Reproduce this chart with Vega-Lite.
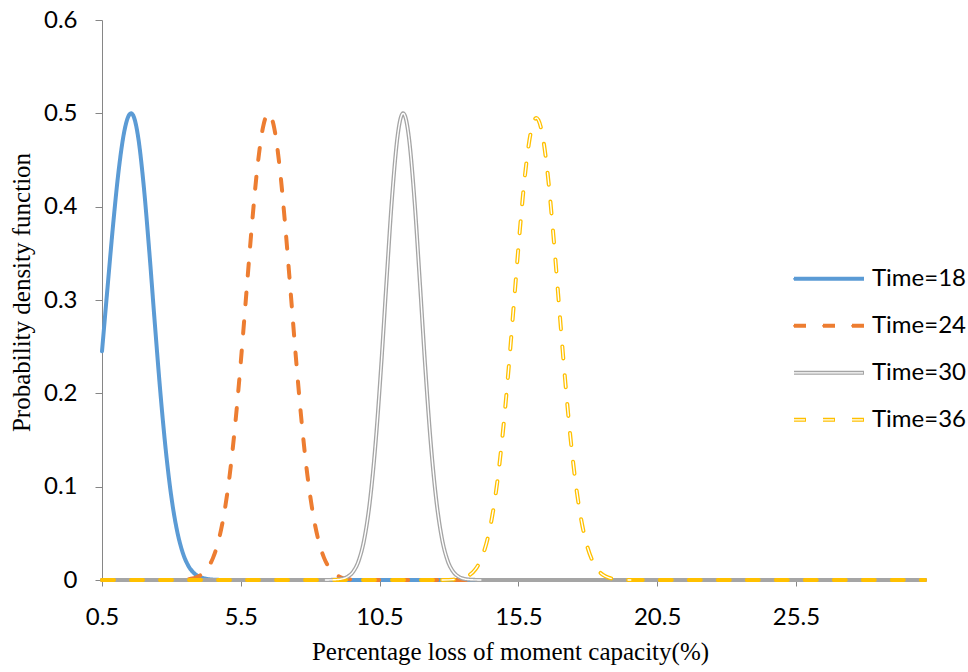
{
  "$schema": "https://vega.github.io/schema/vega-lite/v6.json",
  "width": 823,
  "height": 560,
  "autosize": {"type": "none"},
  "padding": {"left": 102, "top": 20, "right": 43, "bottom": 92},
  "background": "white",
  "config": {"view": {"stroke": null}},
  "datasets": {
    "pdf": [
      {"t": "Time=18", "seg": "c", "x": 0.5, "y": 0.245},
      {"t": "Time=18", "seg": "c", "x": 0.7, "y": 0.3136},
      {"t": "Time=18", "seg": "c", "x": 0.9, "y": 0.3806},
      {"t": "Time=18", "seg": "c", "x": 1.1, "y": 0.4387},
      {"t": "Time=18", "seg": "c", "x": 1.3, "y": 0.4802},
      {"t": "Time=18", "seg": "c", "x": 1.45, "y": 0.4968},
      {"t": "Time=18", "seg": "c", "x": 1.55, "y": 0.5},
      {"t": "Time=18", "seg": "c", "x": 1.65, "y": 0.4959},
      {"t": "Time=18", "seg": "c", "x": 1.8, "y": 0.475},
      {"t": "Time=18", "seg": "c", "x": 2.0, "y": 0.4233},
      {"t": "Time=18", "seg": "c", "x": 2.2, "y": 0.3534},
      {"t": "Time=18", "seg": "c", "x": 2.4, "y": 0.2761},
      {"t": "Time=18", "seg": "c", "x": 2.6, "y": 0.202},
      {"t": "Time=18", "seg": "c", "x": 2.8, "y": 0.1385},
      {"t": "Time=18", "seg": "c", "x": 3.0, "y": 0.0888},
      {"t": "Time=18", "seg": "c", "x": 3.2, "y": 0.0534},
      {"t": "Time=18", "seg": "c", "x": 3.4, "y": 0.03},
      {"t": "Time=18", "seg": "c", "x": 3.6, "y": 0.0158},
      {"t": "Time=18", "seg": "c", "x": 3.8, "y": 0.0078},
      {"t": "Time=18", "seg": "c", "x": 4.0, "y": 0.0036},
      {"t": "Time=18", "seg": "c", "x": 4.2, "y": 0.0016},
      {"t": "Time=18", "seg": "c", "x": 4.5, "y": 0.0004},
      {"t": "Time=18", "seg": "c", "x": 5.0, "y": 0},
      {"t": "Time=18", "seg": "c", "x": 30.15, "y": 0},

      {"t": "Time=24", "seg": "c", "x": 0.5, "y": 0},
      {"t": "Time=24", "seg": "c", "x": 3.1, "y": 0},
      {"t": "Time=24", "seg": "c", "x": 3.5, "y": 0.0005},
      {"t": "Time=24", "seg": "c", "x": 3.7, "y": 0.0013},
      {"t": "Time=24", "seg": "c", "x": 3.9, "y": 0.0029},
      {"t": "Time=24", "seg": "c", "x": 4.1, "y": 0.0062},
      {"t": "Time=24", "seg": "c", "x": 4.3, "y": 0.0125},
      {"t": "Time=24", "seg": "c", "x": 4.5, "y": 0.0237},
      {"t": "Time=24", "seg": "c", "x": 4.7, "y": 0.0423},
      {"t": "Time=24", "seg": "c", "x": 4.9, "y": 0.0711},
      {"t": "Time=24", "seg": "c", "x": 5.1, "y": 0.1123},
      {"t": "Time=24", "seg": "c", "x": 5.3, "y": 0.1669},
      {"t": "Time=24", "seg": "c", "x": 5.5, "y": 0.2334},
      {"t": "Time=24", "seg": "c", "x": 5.7, "y": 0.307},
      {"t": "Time=24", "seg": "c", "x": 5.9, "y": 0.38},
      {"t": "Time=24", "seg": "c", "x": 6.1, "y": 0.4426},
      {"t": "Time=24", "seg": "c", "x": 6.3, "y": 0.485},
      {"t": "Time=24", "seg": "c", "x": 6.5, "y": 0.5},
      {"t": "Time=24", "seg": "c", "x": 6.7, "y": 0.485},
      {"t": "Time=24", "seg": "c", "x": 6.9, "y": 0.4426},
      {"t": "Time=24", "seg": "c", "x": 7.1, "y": 0.38},
      {"t": "Time=24", "seg": "c", "x": 7.3, "y": 0.307},
      {"t": "Time=24", "seg": "c", "x": 7.5, "y": 0.2334},
      {"t": "Time=24", "seg": "c", "x": 7.7, "y": 0.1669},
      {"t": "Time=24", "seg": "c", "x": 7.9, "y": 0.1123},
      {"t": "Time=24", "seg": "c", "x": 8.1, "y": 0.0711},
      {"t": "Time=24", "seg": "c", "x": 8.3, "y": 0.0423},
      {"t": "Time=24", "seg": "c", "x": 8.5, "y": 0.0237},
      {"t": "Time=24", "seg": "c", "x": 8.7, "y": 0.0125},
      {"t": "Time=24", "seg": "c", "x": 8.9, "y": 0.0062},
      {"t": "Time=24", "seg": "c", "x": 9.1, "y": 0.0029},
      {"t": "Time=24", "seg": "c", "x": 9.3, "y": 0.0013},
      {"t": "Time=24", "seg": "c", "x": 9.5, "y": 0.0005},
      {"t": "Time=24", "seg": "c", "x": 9.9, "y": 0},
      {"t": "Time=24", "seg": "c", "x": 30.15, "y": 0},

      {"t": "Time=30", "seg": "a", "x": 0.5, "y": 0},
      {"t": "Time=30", "seg": "a", "x": 8.55, "y": 0},
      {"t": "Time=30", "seg": "c", "x": 8.55, "y": 0},
      {"t": "Time=30", "seg": "c", "x": 8.95, "y": 0.0004},
      {"t": "Time=30", "seg": "c", "x": 9.15, "y": 0.0012},
      {"t": "Time=30", "seg": "c", "x": 9.35, "y": 0.0035},
      {"t": "Time=30", "seg": "c", "x": 9.55, "y": 0.009},
      {"t": "Time=30", "seg": "c", "x": 9.75, "y": 0.0209},
      {"t": "Time=30", "seg": "c", "x": 9.95, "y": 0.044},
      {"t": "Time=30", "seg": "c", "x": 10.15, "y": 0.0839},
      {"t": "Time=30", "seg": "c", "x": 10.35, "y": 0.1447},
      {"t": "Time=30", "seg": "c", "x": 10.55, "y": 0.2261},
      {"t": "Time=30", "seg": "c", "x": 10.75, "y": 0.32},
      {"t": "Time=30", "seg": "c", "x": 10.95, "y": 0.41},
      {"t": "Time=30", "seg": "c", "x": 11.15, "y": 0.4758},
      {"t": "Time=30", "seg": "c", "x": 11.25, "y": 0.4938},
      {"t": "Time=30", "seg": "c", "x": 11.35, "y": 0.5},
      {"t": "Time=30", "seg": "c", "x": 11.45, "y": 0.4938},
      {"t": "Time=30", "seg": "c", "x": 11.55, "y": 0.4758},
      {"t": "Time=30", "seg": "c", "x": 11.75, "y": 0.41},
      {"t": "Time=30", "seg": "c", "x": 11.95, "y": 0.32},
      {"t": "Time=30", "seg": "c", "x": 12.15, "y": 0.2261},
      {"t": "Time=30", "seg": "c", "x": 12.35, "y": 0.1447},
      {"t": "Time=30", "seg": "c", "x": 12.55, "y": 0.0839},
      {"t": "Time=30", "seg": "c", "x": 12.75, "y": 0.044},
      {"t": "Time=30", "seg": "c", "x": 12.95, "y": 0.0209},
      {"t": "Time=30", "seg": "c", "x": 13.15, "y": 0.009},
      {"t": "Time=30", "seg": "c", "x": 13.35, "y": 0.0035},
      {"t": "Time=30", "seg": "c", "x": 13.55, "y": 0.0012},
      {"t": "Time=30", "seg": "c", "x": 13.75, "y": 0.0004},
      {"t": "Time=30", "seg": "c", "x": 14.15, "y": 0},
      {"t": "Time=30", "seg": "b", "x": 14.15, "y": 0},
      {"t": "Time=30", "seg": "b", "x": 30.15, "y": 0},

      {"t": "Time=36", "seg": "a", "x": 0.5, "y": 0},
      {"t": "Time=36", "seg": "a", "x": 12.75, "y": 0},
      {"t": "Time=36", "seg": "c", "x": 12.75, "y": 0},
      {"t": "Time=36", "seg": "c", "x": 13.15, "y": 0.0004},
      {"t": "Time=36", "seg": "c", "x": 13.35, "y": 0.0011},
      {"t": "Time=36", "seg": "c", "x": 13.55, "y": 0.0025},
      {"t": "Time=36", "seg": "c", "x": 13.75, "y": 0.0055},
      {"t": "Time=36", "seg": "c", "x": 13.95, "y": 0.0113},
      {"t": "Time=36", "seg": "c", "x": 14.15, "y": 0.0218},
      {"t": "Time=36", "seg": "c", "x": 14.35, "y": 0.0394},
      {"t": "Time=36", "seg": "c", "x": 14.55, "y": 0.067},
      {"t": "Time=36", "seg": "c", "x": 14.75, "y": 0.1071},
      {"t": "Time=36", "seg": "c", "x": 14.95, "y": 0.1607},
      {"t": "Time=36", "seg": "c", "x": 15.15, "y": 0.2266},
      {"t": "Time=36", "seg": "c", "x": 15.35, "y": 0.3002},
      {"t": "Time=36", "seg": "c", "x": 15.55, "y": 0.3736},
      {"t": "Time=36", "seg": "c", "x": 15.75, "y": 0.4368},
      {"t": "Time=36", "seg": "c", "x": 15.95, "y": 0.4798},
      {"t": "Time=36", "seg": "c", "x": 16.15, "y": 0.495},
      {"t": "Time=36", "seg": "c", "x": 16.35, "y": 0.4798},
      {"t": "Time=36", "seg": "c", "x": 16.55, "y": 0.4368},
      {"t": "Time=36", "seg": "c", "x": 16.75, "y": 0.3736},
      {"t": "Time=36", "seg": "c", "x": 16.95, "y": 0.3002},
      {"t": "Time=36", "seg": "c", "x": 17.15, "y": 0.2266},
      {"t": "Time=36", "seg": "c", "x": 17.35, "y": 0.1607},
      {"t": "Time=36", "seg": "c", "x": 17.55, "y": 0.1071},
      {"t": "Time=36", "seg": "c", "x": 17.75, "y": 0.067},
      {"t": "Time=36", "seg": "c", "x": 17.95, "y": 0.0394},
      {"t": "Time=36", "seg": "c", "x": 18.15, "y": 0.0218},
      {"t": "Time=36", "seg": "c", "x": 18.35, "y": 0.0113},
      {"t": "Time=36", "seg": "c", "x": 18.55, "y": 0.0055},
      {"t": "Time=36", "seg": "c", "x": 18.75, "y": 0.0025},
      {"t": "Time=36", "seg": "c", "x": 18.95, "y": 0.0011},
      {"t": "Time=36", "seg": "c", "x": 19.15, "y": 0.0004},
      {"t": "Time=36", "seg": "c", "x": 19.55, "y": 0},
      {"t": "Time=36", "seg": "b", "x": 19.55, "y": 0},
      {"t": "Time=36", "seg": "b", "x": 30.15, "y": 0}
    ]
  },
  "data": {"name": "pdf"},
  "layer": [
    {
      "mark": {"type": "line", "strokeWidth": 4, "strokeCap": "round", "strokeJoin": "round", "interpolate": "monotone"},
      "encoding": {
        "x": {
          "field": "x", "type": "quantitative",
          "scale": {"domain": [0.5, 30.15], "nice": false, "zero": false},
          "axis": {
            "values": [0.5, 5.5, 10.5, 15.5, 20.5, 25.5], "format": ".1f",
            "grid": false, "labelFlush": false, "labelOverlap": false,
            "labelFont": "Lato", "labelFontSize": 24, "labelColor": "#000000", "labelPadding": 19,
            "tickSize": 6, "tickColor": "#868686", "domainColor": "#868686",
            "title": "Percentage loss of moment capacity(%)",
            "titleFont": "Liberation Serif", "titleFontSize": 25, "titleFontWeight": "normal", "titleColor": "#000000",
            "titleBaseline": "alphabetic", "titleY": 79, "titleX": 408, "titleAlign": "center"
          }
        },
        "y": {
          "field": "y", "type": "quantitative",
          "scale": {"domain": [0, 0.6], "nice": false},
          "axis": {
            "values": [0, 0.1, 0.2, 0.3, 0.4, 0.5, 0.6], "format": "~g",
            "grid": false, "labelFlush": false, "labelOverlap": false,
            "labelFont": "Lato", "labelFontSize": 24, "labelColor": "#000000", "labelPadding": 18,
            "tickSize": 7, "tickColor": "#868686", "domainColor": "#868686",
            "title": "Probability density function",
            "titleFont": "Liberation Serif", "titleFontSize": 25, "titleFontWeight": "normal", "titleColor": "#000000",
            "titleBaseline": "alphabetic", "titleAngle": 270, "titleX": -73, "titleY": 272, "titleAlign": "center"
          }
        },
        "stroke": {
          "field": "t", "type": "nominal",
          "scale": {"range": ["#5B9BD5", "#ED7D31", "#A5A5A5", "#FFC000"]},
          "legend": {
            "orient": "none", "legendX": 690, "legendY": 235.5, "title": null, "zindex": 1,
            "symbolType": "stroke", "symbolSize": 4900, "symbolStrokeWidth": 4,
            "labelFont": "Lato", "labelFontSize": 24, "labelColor": "#000000", "labelOffset": 6,
            "clipHeight": 46.7, "rowPadding": 0, "padding": 0
          }
        },
        "strokeDash": {
          "field": "t", "type": "nominal",
          "scale": {"range": [[1, 0], [12, 17], [1, 0], [12, 17]]},
          "legend": {
            "orient": "none", "legendX": 690, "legendY": 235.5, "title": null, "zindex": 1,
            "symbolType": "stroke", "symbolSize": 4900, "symbolStrokeWidth": 4,
            "labelFont": "Lato", "labelFontSize": 24, "labelColor": "#000000", "labelOffset": 6,
            "clipHeight": 46.7, "rowPadding": 0, "padding": 0
          }
        },
        "detail": {"field": "seg", "type": "nominal"}
      }
    },
    {
      "transform": [
        {"filter": {"field": "seg", "equal": "c"}},
        {"filter": {"field": "t", "oneOf": ["Time=30", "Time=36"]}}
      ],
      "mark": {"type": "line", "strokeWidth": 1.4, "strokeCap": "round", "strokeJoin": "round", "interpolate": "monotone"},
      "encoding": {
        "x": {"field": "x", "type": "quantitative"},
        "y": {"field": "y", "type": "quantitative"},
        "color": {
          "field": "t", "type": "nominal",
          "scale": {"domain": ["Time=18", "Time=24", "Time=30", "Time=36"], "range": ["#5B9BD5", "#ED7D31", "#FFFFFF", "#FFFFFF"]},
          "legend": {
            "orient": "none", "legendX": 690, "legendY": 235.5, "title": null, "zindex": 3,
            "symbolType": "stroke", "symbolSize": 4900, "symbolStrokeWidth": 1.4,
            "labelFont": "Lato", "labelFontSize": 24, "labelColor": "#000000", "labelExpr": "''", "labelOffset": 6,
            "clipHeight": 46.7, "rowPadding": 0, "padding": 0
          }
        },
        "strokeDash": {
          "field": "t", "type": "nominal",
          "scale": {"domain": ["Time=18", "Time=24", "Time=30", "Time=36"], "range": [[1, 0], [12, 17], [1, 0], [12, 17]]},
          "legend": {
            "orient": "none", "legendX": 690, "legendY": 235.5, "title": null, "zindex": 3,
            "symbolType": "stroke", "symbolSize": 4900, "symbolStrokeWidth": 1.4,
            "labelFont": "Lato", "labelFontSize": 24, "labelColor": "#000000", "labelExpr": "''", "labelOffset": 6,
            "clipHeight": 46.7, "rowPadding": 0, "padding": 0
          }
        },
        "detail": {"field": "seg", "type": "nominal"}
      }
    }
  ],
  "resolve": {
    "scale": {"strokeDash": "independent"},
    "legend": {"strokeDash": "independent", "color": "independent", "stroke": "independent"}
  }
}
